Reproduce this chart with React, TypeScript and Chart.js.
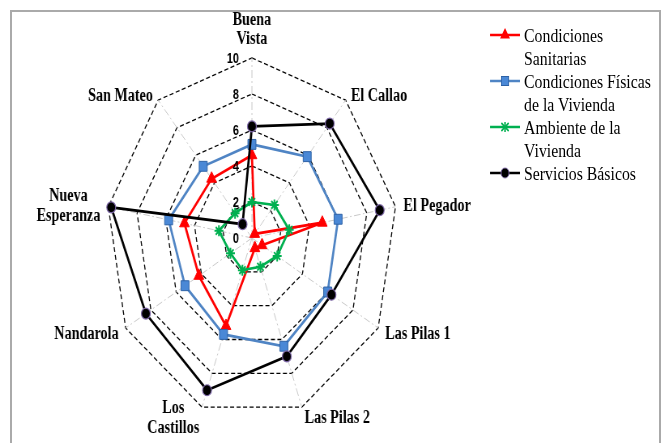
import React, { useEffect, useRef } from 'react';
import { Chart, registerables } from 'chart.js';

Chart.register(...registerables);

// ---------- data ----------
const categories = [
  'Buena Vista', 'El Callao', 'El Pegador', 'Las Pilas 1', 'Las Pilas 2',
  'Los Castillos', 'Nandarola', 'Nueva Esperanza', 'San Mateo',
];
const categoryLines = [
  ['Buena', 'Vista'], ['El Callao'], ['El Pegador'], ['Las Pilas 1'], ['Las Pilas 2'],
  ['Los', 'Castillos'], ['Nandarola'], ['Nueva', 'Esperanza'], ['San Mateo'],
];
const condicionesSanitarias = [4.6, 0.3, 4.9, 0.8, 0.6, 5.2, 4.2, 4.7, 4.3];
const condicionesFisicas = [5.2, 5.9, 6.0, 6.0, 6.4, 5.7, 5.3, 5.8, 5.2];
const ambienteVivienda = [2.0, 2.4, 2.6, 2.0, 1.7, 1.9, 1.7, 2.3, 1.8];
const serviciosBasicos = [6.2, 8.3, 8.9, 6.3, 7.0, 9.0, 8.4, 9.8, 1.0];
const tickValues = [0, 2, 4, 6, 8, 10];
const seriesLegendLines = [
  ['Condiciones', 'Sanitarias'],
  ['Condiciones Físicas', 'de la Vivienda'],
  ['Ambiente de la', 'Vivienda'],
  ['Servicios Básicos'],
];

// ---------- style ----------
const SQUISH = 0.81;
const W = 826;
const H = 443;
const VSTRETCH = 1.12;
const RED = '#FF0000';
const BLUE = '#4F84C4';
const BLUE_FILL = '#4A88D6';
const BLUE_EDGE = '#2E62A6';
const GREEN = '#00B050';
const BLACK = '#000000';
const PURPLE = '#7E68A8';

function drawText(ctx: CanvasRenderingContext2D, text: string, x: number, y: number, align: CanvasTextAlign) {
  ctx.save();
  ctx.translate(x, y);
  ctx.scale(1, VSTRETCH);
  ctx.textAlign = align;
  ctx.textBaseline = 'middle';
  ctx.fillText(text, 0, 0);
  ctx.restore();
}

const labelPlugin = {
  id: 'refLabels',
  afterDraw(chart: any) {
    const scale = chart.scales.r;
    const ctx: CanvasRenderingContext2D = chart.ctx;
    ctx.save();
    ctx.fillStyle = '#000';
    ctx.font = 'bold 13.5px "Liberation Sans", Arial, sans-serif';
    tickValues.forEach((v) => {
      const d = scale.getDistanceFromCenterForValue(v);
      drawText(ctx, String(v), scale.xCenter - 16, scale.yCenter - d + 1, 'right');
    });
    ctx.font = 'bold 17.5px "Liberation Serif", "Times New Roman", serif';
    categoryLines.forEach((lines, i) => {
      const p = scale.getPointPosition(i, scale.drawingArea + 10);
      const deg = Math.round((scale.getIndexAngle(i) * 180) / Math.PI) % 360;
      if (deg === 0) {
        lines.forEach((t, k) =>
          drawText(ctx, t, p.x, p.y - 9 - (lines.length - 1 - k) * 19, 'center'));
      } else {
        const maxW = Math.max(...lines.map((t) => ctx.measureText(t).width));
        const cx = deg < 180 ? p.x + maxW / 2 : p.x - maxW / 2;
        const dy = deg === 40 || deg === 320 ? 3 : 1;
        lines.forEach((t, k) =>
          drawText(ctx, t, cx, p.y + dy + (k - (lines.length - 1) / 2) * 20, 'center'));
      }
    });
    ctx.restore();
  },
};

function LegendMarker({ kind }: { kind: number }) {
  const color = [RED, BLUE, GREEN, BLACK][kind];
  return (
    <svg width={37} height={16} style={{ position: 'absolute', left: 0, top: -8, overflow: 'visible' }}>
      <line x1={0} y1={8} x2={37} y2={8} stroke={color} strokeWidth={2.5} />
      {kind === 0 && <polygon points="18.5,1 24.6,11.5 12.4,11.5" fill={RED} />}
      {kind === 1 && <rect x={14} y={3.5} width={9} height={9} fill={BLUE_FILL} stroke={BLUE_EDGE} strokeWidth={1} />}
      {kind === 2 && (
        <g stroke={GREEN} strokeWidth={1.8}>
          <line x1={18.5} y1={3} x2={18.5} y2={13} />
          <line x1={14} y1={4} x2={23} y2={12} />
          <line x1={23} y1={4} x2={14} y2={12} />
        </g>
      )}
      {kind === 3 && <circle cx={18.5} cy={8} r={5} fill={BLACK} stroke={PURPLE} strokeWidth={1} />}
    </svg>
  );
}

export default function App() {
  const canvasRef = useRef<HTMLCanvasElement | null>(null);

  useEffect(() => {
    const canvas = canvasRef.current;
    if (!canvas) return;
    const chart = new Chart(canvas, {
      type: 'radar',
      data: {
        labels: categories,
        datasets: [
          {
            label: 'Condiciones Sanitarias',
            data: condicionesSanitarias,
            borderColor: RED,
            backgroundColor: RED,
            borderWidth: 2.7,
            pointStyle: 'triangle',
            pointRadius: 7,
            pointBackgroundColor: RED,
            pointBorderColor: RED,
            pointBorderWidth: 1,
            fill: false,
            order: 4,
          },
          {
            label: 'Condiciones Físicas de la Vivienda',
            data: condicionesFisicas,
            borderColor: BLUE,
            backgroundColor: BLUE,
            borderWidth: 2.7,
            pointStyle: 'rect',
            pointRadius: 7,
            pointBackgroundColor: BLUE_FILL,
            pointBorderColor: BLUE_EDGE,
            pointBorderWidth: 1,
            fill: false,
            order: 3,
          },
          {
            label: 'Ambiente de la Vivienda',
            data: ambienteVivienda,
            borderColor: GREEN,
            backgroundColor: GREEN,
            borderWidth: 2.7,
            pointStyle: 'star',
            pointRadius: 5.5,
            pointBackgroundColor: GREEN,
            pointBorderColor: GREEN,
            pointBorderWidth: 2,
            fill: false,
            order: 2,
          },
          {
            label: 'Servicios Básicos',
            data: serviciosBasicos,
            borderColor: BLACK,
            backgroundColor: BLACK,
            borderWidth: 2.7,
            pointStyle: 'circle',
            pointRadius: 5.5,
            pointBackgroundColor: BLACK,
            pointBorderColor: PURPLE,
            pointBorderWidth: 1.2,
            fill: false,
            order: 1,
          },
        ],
      },
      options: {
        responsive: false,
        animation: false,
        devicePixelRatio: 1,
        events: [],
        layout: { padding: { left: 131, right: 335, top: 58, bottom: 25 } },
        elements: { line: { tension: 0 } },
        plugins: { legend: { display: false }, tooltip: { enabled: false } },
        scales: {
          r: {
            min: 0,
            max: 10,
            ticks: { stepSize: 2, display: false },
            pointLabels: { display: false },
            grid: { color: '#000', lineWidth: 1.3 },
            border: { dash: [5, 3] },
            angleLines: { color: '#c8c8c8', lineWidth: 1, borderDash: [8, 3, 2, 3] },
          },
        },
      } as any,
      plugins: [labelPlugin],
    });
    return () => chart.destroy();
  }, []);

  const rowCenters = [35, 81, 127, 173];

  return (
    <div style={{ position: 'fixed', left: 0, top: 0, width: 669, height: 443, overflow: 'hidden', background: '#fff' }}>
      <div
        style={{
          position: 'absolute', left: 10, top: 10, width: 651, height: 470,
          border: '2px solid #aaaaaa', boxSizing: 'border-box',
        }}
      />
      <div
        style={{
          position: 'absolute', left: 0, top: 0, width: W, height: H,
          transform: `scaleX(${SQUISH})`, transformOrigin: '0 0',
        }}
      >
        <canvas ref={canvasRef} width={W} height={H} style={{ width: W, height: H, display: 'block' }} />
        {seriesLegendLines.map((lines, i) => (
          <div key={i} style={{ position: 'absolute', left: 605, top: rowCenters[i], width: 37, height: 0 }}>
            <LegendMarker kind={i} />
            {lines.map((t, k) => (
              <div
                key={k}
                style={{
                  position: 'absolute', left: 42, top: -11.5 + k * 23, height: 23, lineHeight: '23px',
                  whiteSpace: 'nowrap', fontFamily: '"Liberation Serif", "Times New Roman", serif',
                  fontSize: 19.5, color: '#000',
                }}
              >
                {t}
              </div>
            ))}
          </div>
        ))}
      </div>
    </div>
  );
}
